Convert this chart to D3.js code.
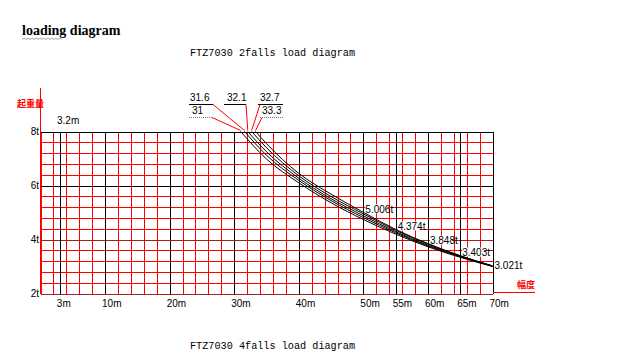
<!DOCTYPE html>
<html>
<head>
<meta charset="utf-8">
<title>FTZ7030 load diagram</title>
<script src="https://d3js.org/d3.v7.min.js"></script>
<style>
	body { margin: 0; background: #fff; }
	.narrow { font-family: "Liberation Sans Narrow", "Arial Narrow", "Liberation Sans", sans-serif; font-stretch: condensed; }
	.mono { font-family: "Liberation Mono", "DejaVu Sans Mono", monospace; }
</style>
</head>
<body>
<script>

	// data
	var jibLengths = [31, 31.6, 32.1, 32.7, 33.3];           // start radius of each curve at 8t
	var radii = [35, 40, 45, 50, 55, 60, 65, 70];            // m
	var loads = [                                            // t, one row per jib length
		[6.98, 6.10, 5.36, 4.74, 4.20, 3.73, 3.34, 3.00],
		[7.12, 6.19, 5.44, 4.81, 4.25, 3.76, 3.36, 3.01],
		[7.25, 6.27, 5.51, 4.88, 4.29, 3.79, 3.38, 3.02],
		[7.40, 6.36, 5.59, 4.95, 4.34, 3.83, 3.39, 3.021],
		[7.55, 6.45, 5.68, 5.006, 4.374, 3.848, 3.403, 3.021]
	];
	var pointLabels = ["5.006t", "4.374t", "3.848t", "3.403t", "3.021t"];
	var pointRadii = [50, 55, 60, 65, 70];
	var xTicks = [3, 10, 20, 30, 40, 50, 55, 60, 65, 70];
	var xTickLabels = ["3m", "10m", "20m", "30m", "40m", "50m", "55m", "60m", "65m", "70m"];
	var yTicks = [8, 6, 4, 2];
	var yTickLabels = ["8t", "6t", "4t", "2t"];

	var W = 626, H = 363;

	var svg = d3.select("body").append("svg")
		.attr("width", W)
		.attr("height", H)
		.style("display", "block");

	svg.append("rect").attr("width", W).attr("height", H).attr("fill", "#fff");

	// scales
	var x = d3.scaleLinear().domain([0, 70]).range([40.5, 492.5]);
	var y = d3.scaleLinear().domain([2, 8]).range([293.5, 131.5]);

	// titles
	svg.append("text")
		.attr("x", 22).attr("y", 35)
		.style("font-family", "'Liberation Serif', serif")
		.style("font-weight", "bold")
		.style("font-size", "14px")
		.text("loading diagram");
	svg.append("path")   // squiggle under "loading"
		.attr("d", d3.range(22, 64, 2).map(function (v, i) { return (i ? "L" : "M") + v + "," + (i % 2 ? 38 : 39.5); }).join(""))
		.attr("fill", "none").attr("stroke", "#8a8a8a").attr("stroke-width", 0.8);

	svg.append("text").attr("class", "mono")
		.attr("x", 190).attr("y", 56)
		.style("font-size", "10.2px")
		.text("FTZ7030 2falls load diagram");
	svg.append("text").attr("class", "mono")
		.attr("x", 190).attr("y", 349)
		.style("font-size", "10.2px")
		.text("FTZ7030 4falls load diagram");

	var grid = svg.append("g").attr("shape-rendering", "crispEdges");

	// red grid, 2m / 0.4t
	grid.selectAll(".vr").data(d3.range(0, 71, 2)).enter().append("line")
		.attr("x1", function (d) { return Math.round(x(d)) + 0.5; })
		.attr("x2", function (d) { return Math.round(x(d)) + 0.5; })
		.attr("y1", y(8)).attr("y2", y(2))
		.attr("stroke", "#f00");
	grid.selectAll(".hr").data(d3.range(0, 16).map(function (i) { return 2 + i * 0.4; })).enter().append("line")
		.attr("x1", x(0)).attr("x2", x(70))
		.attr("y1", function (d) { return Math.round(y(d)) + 0.5; })
		.attr("y2", function (d) { return Math.round(y(d)) + 0.5; })
		.attr("stroke", "#f00");

	// black lines at labelled ticks
	grid.selectAll(".vb").data(xTicks).enter().append("line")
		.attr("x1", function (d) { return Math.round(x(d)) + 0.5; })
		.attr("x2", function (d) { return Math.round(x(d)) + 0.5; })
		.attr("y1", y(8)).attr("y2", y(2))
		.attr("stroke", "#000");
	grid.selectAll(".hb").data(yTicks).enter().append("line")
		.attr("x1", x(0)).attr("x2", x(70))
		.attr("y1", function (d) { return Math.round(y(d)) + 0.5; })
		.attr("y2", function (d) { return Math.round(y(d)) + 0.5; })
		.attr("stroke", function (d) { return d > 5 ? "#000" : "#444"; })
		.attr("stroke-dasharray", function (d) { return d > 5 ? null : "1,1"; });

	// axes (red)
	grid.append("line").attr("x1", 40.5).attr("x2", 40.5).attr("y1", 88).attr("y2", y(2)).attr("stroke", "#f00");
	grid.append("line").attr("x1", x(70)).attr("x2", 535).attr("y1", y(2) - 1).attr("y2", y(2) - 1).attr("stroke", "#f00");

	svg.append("text").attr("x", 17).attr("y", 107)
		.style("font-family", "'Noto Sans CJK SC', sans-serif").style("font-size", "9px").style("font-weight", "bold")
		.attr("fill", "#f00").text("起重量");
	svg.append("text").attr("x", 517).attr("y", 288)
		.style("font-family", "'Noto Sans CJK SC', sans-serif").style("font-size", "9px").style("font-weight", "bold")
		.attr("fill", "#f00").text("幅度");

	// tick labels
	svg.selectAll(".xl").data(xTicks).enter().append("text").attr("class", "narrow")
		.attr("x", function (d) { return x(d) - 3; })
		.attr("y", 307)
		.style("font-size", "10px")
		.text(function (d, i) { return xTickLabels[i]; });
	svg.selectAll(".yl").data(yTicks).enter().append("text").attr("class", "narrow")
		.attr("x", 39).attr("y", function (d) { return y(d) + 3.5; })
		.attr("text-anchor", "end")
		.style("font-size", "10px")
		.text(function (d, i) { return yTickLabels[i]; });
	svg.append("text").attr("class", "narrow").attr("x", 57).attr("y", 124).style("font-size", "10px").text("3.2m");

	// load curves
	var line = d3.line()
		.x(function (d) { return x(d[0]); })
		.y(function (d) { return y(d[1]); })
		.curve(d3.curveMonotoneX);

	var curves = svg.append("g");

	// point labels on the outer curve, white box behind the text (under the curves)
	var outer = loads[loads.length - 1];
	var pl = svg.selectAll(".pl").data(pointRadii).enter().append("g")
		.attr("transform", function (d, i) {
			var dy = i === pointRadii.length - 1 ? 0 : -3;
			return "translate(" + (x(d) + 2) + "," + (y(outer[radii.indexOf(d)]) + dy) + ")";
		});
	pl.append("rect").attr("x", 0).attr("y", -5).attr("width", 22).attr("height", 9).attr("fill", "#fff");
	pl.append("text").attr("class", "narrow").attr("y", 3.5).style("font-size", "10px")
		.text(function (d, i) { return pointLabels[i]; });

	curves.selectAll("path").data(jibLengths).enter().append("path")
		.attr("d", function (d, i) {
			return line([[d, 8]].concat(radii.map(function (r, j) { return [r, loads[i][j]]; })));
		})
		.attr("fill", "none").attr("stroke", "#000").attr("stroke-width", 1);
	curves.raise();

	// jib length callouts
	var callX = [192, 190, 227, 260, 262];
	var callY = [114, 101, 101, 101, 114];
	var ulX = [[189, 212], [189, 213], [224, 246], [258, 283], [260, 284]];
	var calls = svg.append("g");
	jibLengths.forEach(function (len, i) {
		var uy = callY[i] + 3.5;
		calls.append("text").attr("class", "narrow").attr("x", callX[i]).attr("y", callY[i])
			.style("font-size", "10px").text(String(len));
		calls.append("line").attr("x1", ulX[i][0]).attr("x2", ulX[i][1]).attr("y1", uy).attr("y2", uy)
			.attr("stroke", i === 0 || i === 4 ? "#777" : "#000")
			.attr("stroke-dasharray", i === 0 || i === 4 ? "1,1" : null);
		var sx = (i === 3 || i === 4) ? ulX[i][0] + 2 : ulX[i][1];
		calls.append("line").attr("x1", sx).attr("y1", uy).attr("x2", x(len)).attr("y2", y(8) - 1)
			.attr("stroke", "#f00");
	});

</script>
</body>
</html>
